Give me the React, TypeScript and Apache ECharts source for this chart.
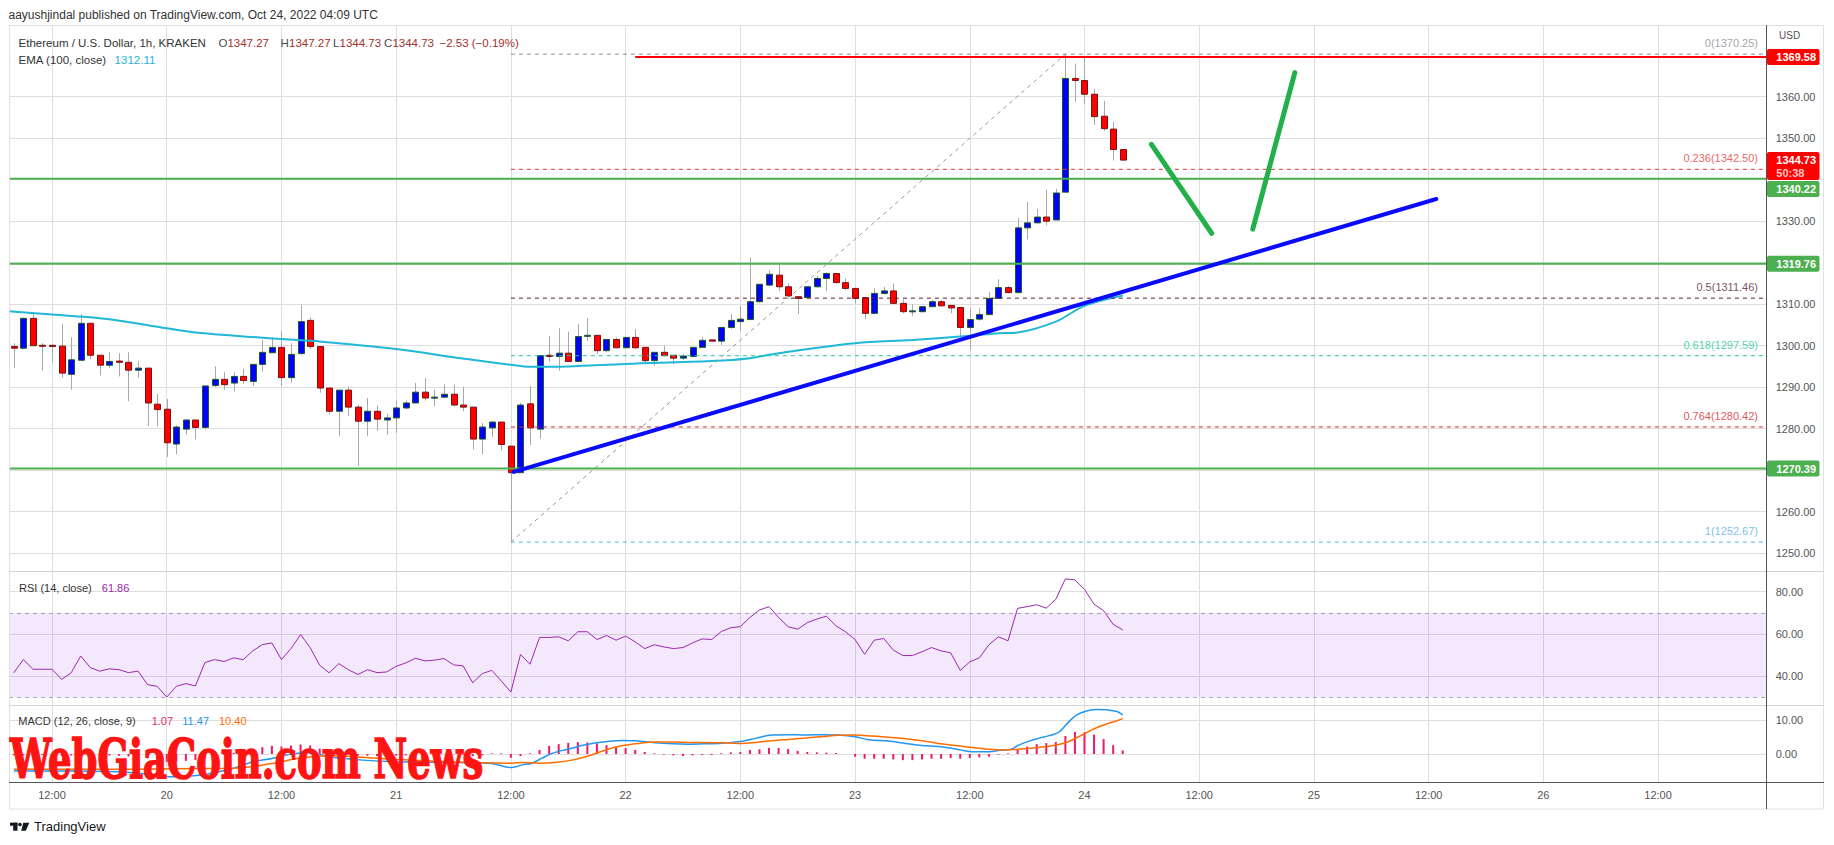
import React, { useEffect, useRef } from "react";
import * as echarts from "echarts";

// Hours are counted from 19 Oct 2022 00:00 UTC; one candle per hour.
const FIRST_CANDLE_HOUR = 8;

const OPEN = [
  1299.8, 1299.4, 1306.6, 1300.1, 1300.1, 1299.9, 1293.1, 1296.5, 1305.4, 1297.7,
  1295.3, 1296.3, 1296.0, 1294.1, 1294.6, 1285.9, 1284.7, 1276.3, 1279.9, 1282.1,
  1280.3, 1290.4, 1291.9, 1291.0, 1292.6, 1291.4, 1295.5, 1298.3, 1299.6, 1292.3,
  1298.1, 1306.1, 1299.8, 1289.8, 1284.2, 1289.3, 1285.2, 1281.8, 1284.2, 1282.1,
  1282.6, 1285.0, 1286.2, 1288.8, 1287.5, 1287.6, 1288.3, 1285.7, 1285.2, 1277.5,
  1280.2, 1281.6, 1275.8, 1269.4, 1286.0, 1279.9, 1297.7, 1297.4, 1298.2, 1296.2,
  1302.3, 1302.5, 1298.8, 1301.5, 1299.5, 1302.0, 1299.6, 1296.4, 1298.4, 1297.7,
  1297.0, 1297.4, 1299.6, 1301.4, 1301.1, 1304.4, 1305.8, 1306.3, 1310.6, 1314.6,
  1317.0, 1314.2, 1311.8, 1311.6, 1314.2, 1316.2, 1317.4, 1315.2, 1313.8, 1311.6,
  1307.8, 1312.6, 1313.2, 1310.2, 1308.3, 1308.2, 1309.4, 1310.6, 1309.7, 1309.2,
  1304.4, 1306.4, 1307.5, 1311.4, 1314.0, 1312.8, 1328.4, 1329.6, 1331.0, 1330.3,
  1337.0, 1364.4, 1363.9, 1360.6, 1355.3, 1352.2, 1347.27,
];
const HIGH = [
  1300.6, 1306.8, 1308.0, 1300.6, 1300.2, 1305.2, 1302.0, 1307.6, 1305.4, 1297.7,
  1298.4, 1298.2, 1298.4, 1296.3, 1294.6, 1288.4, 1287.2, 1280.8, 1282.1, 1282.1,
  1290.3, 1295.0, 1293.6, 1293.6, 1294.4, 1295.5, 1301.4, 1302.0, 1303.6, 1300.6,
  1309.9, 1306.8, 1299.8, 1289.8, 1289.3, 1290.2, 1285.8, 1287.4, 1285.6, 1283.6,
  1286.8, 1286.8, 1291.0, 1292.2, 1289.4, 1290.7, 1290.6, 1290.1, 1285.2, 1281.4,
  1281.8, 1281.6, 1275.8, 1286.2, 1290.4, 1297.6, 1302.4, 1304.2, 1303.4, 1305.2,
  1306.6, 1302.5, 1301.5, 1302.0, 1302.0, 1304.0, 1299.6, 1298.4, 1300.0, 1297.7,
  1298.0, 1299.6, 1302.1, 1301.4, 1304.4, 1307.6, 1309.6, 1321.2, 1314.8, 1318.2,
  1319.6, 1315.0, 1311.8, 1314.2, 1316.8, 1317.6, 1317.4, 1316.2, 1313.8, 1311.6,
  1313.8, 1314.2, 1315.0, 1311.2, 1310.0, 1309.6, 1311.0, 1311.0, 1309.7, 1309.2,
  1309.0, 1309.0, 1313.0, 1316.0, 1314.4, 1330.8, 1334.6, 1333.0, 1337.6, 1337.8,
  1370.25, 1368.0, 1369.6, 1361.8, 1359.0, 1354.0, 1347.27,
];
const LOW = [
  1294.6, 1299.2, 1300.0, 1294.0, 1296.0, 1292.3, 1289.4, 1296.2, 1296.8, 1292.8,
  1294.6, 1292.6, 1286.6, 1292.3, 1280.6, 1280.6, 1273.2, 1273.8, 1278.6, 1277.4,
  1279.8, 1290.0, 1289.4, 1289.0, 1290.8, 1290.3, 1293.8, 1298.3, 1290.2, 1291.1,
  1297.8, 1299.2, 1288.7, 1283.4, 1278.2, 1283.0, 1271.0, 1278.2, 1279.5, 1278.6,
  1279.0, 1284.6, 1286.2, 1286.8, 1285.4, 1287.4, 1285.4, 1284.2, 1275.0, 1273.8,
  1278.0, 1274.8, 1252.67, 1269.4, 1276.0, 1277.6, 1296.2, 1294.0, 1296.2, 1296.0,
  1301.2, 1298.0, 1298.4, 1299.4, 1299.4, 1299.2, 1295.8, 1295.2, 1297.6, 1295.5,
  1296.6, 1297.4, 1299.6, 1301.0, 1300.2, 1304.0, 1303.6, 1306.3, 1310.4, 1314.4,
  1313.2, 1311.8, 1307.6, 1311.4, 1314.0, 1313.2, 1315.0, 1313.4, 1310.2, 1306.4,
  1307.6, 1312.4, 1310.0, 1307.8, 1307.2, 1308.0, 1309.4, 1309.6, 1307.8, 1302.0,
  1299.0, 1306.0, 1307.4, 1311.4, 1312.6, 1312.6, 1325.6, 1329.6, 1329.0, 1330.3,
  1337.0, 1358.8, 1358.2, 1353.2, 1351.8, 1344.6, 1344.73,
];
const CLOSE = [
  1299.4, 1306.6, 1300.0, 1300.0, 1299.8, 1293.4, 1296.6, 1305.4, 1297.7, 1295.3,
  1296.2, 1296.0, 1294.1, 1294.6, 1286.2, 1284.6, 1276.6, 1280.4, 1282.1, 1280.3,
  1290.3, 1291.9, 1290.6, 1292.6, 1291.6, 1295.5, 1298.4, 1299.6, 1292.3, 1297.9,
  1305.8, 1299.8, 1289.8, 1284.2, 1289.3, 1285.2, 1281.8, 1284.2, 1282.3, 1282.6,
  1285.0, 1286.2, 1288.8, 1287.4, 1287.6, 1288.3, 1285.7, 1285.2, 1277.5, 1280.4,
  1281.6, 1276.2, 1269.4, 1285.7, 1280.2, 1297.6, 1297.4, 1298.2, 1296.2, 1302.2,
  1302.5, 1298.8, 1301.5, 1299.5, 1302.0, 1299.5, 1296.4, 1298.4, 1297.6, 1297.0,
  1297.5, 1299.6, 1301.3, 1301.1, 1304.4, 1306.1, 1306.4, 1310.6, 1314.8, 1317.2,
  1314.2, 1312.0, 1311.4, 1314.2, 1316.2, 1317.4, 1315.2, 1313.8, 1311.4, 1307.8,
  1312.6, 1313.2, 1310.2, 1308.2, 1308.4, 1309.4, 1310.6, 1309.6, 1309.1, 1304.4,
  1306.3, 1307.5, 1311.4, 1314.0, 1312.8, 1328.4, 1329.6, 1331.0, 1330.0, 1336.8,
  1364.4, 1363.9, 1360.6, 1355.2, 1352.3, 1347.27, 1344.73,
];

// EMA(100): [hour, value]
const EMA_POINTS = [
  [7.5, 1308.3], [12, 1307.5], [18, 1306.4], [24, 1304.2], [27, 1303.2], [36, 1301.6],
  [40, 1301.0], [48, 1299.2], [55, 1296.9], [60, 1295.4], [62, 1294.9], [66, 1295.0],
  [72, 1295.6], [81, 1296.3], [85, 1297.0], [88, 1298.2], [96, 1300.6], [102, 1301.4],
  [108, 1302.4], [111, 1303.0], [113, 1303.2], [117, 1305.8], [120, 1309.6], [124, 1312.11],
];

const RSI = [
  41.5, 47.8, 43.2, 43.2, 43.2, 38.4, 41.5, 49.5, 44.0, 42.3,
  43.4, 43.0, 41.6, 42.3, 35.9, 35.1, 30.0, 35.1, 36.4, 35.3,
  46.4, 47.8, 46.9, 48.6, 47.8, 51.9, 54.9, 55.7, 47.8, 53.0,
  59.7, 53.5, 45.1, 41.5, 45.9, 43.0, 40.7, 43.0, 41.6, 41.9,
  44.6, 46.2, 48.4, 47.2, 47.5, 48.3, 45.3, 44.8, 36.8, 41.1,
  42.7, 37.6, 32.4, 50.2, 45.6, 58.3, 58.3, 58.6, 56.7, 61.0,
  61.0, 57.3, 59.2, 57.0, 58.9, 56.2, 53.0, 54.8, 53.8, 53.0,
  53.5, 55.7, 57.6, 57.3, 61.1, 62.9, 63.4, 67.8, 71.3, 72.9,
  67.8, 63.4, 62.2, 65.3, 67.0, 68.4, 63.8, 61.0, 57.3, 50.3,
  57.0, 57.8, 52.3, 49.7, 49.7, 51.5, 53.5, 51.9, 51.0, 42.7,
  46.7, 48.6, 54.8, 58.6, 56.7, 72.1, 72.9, 73.8, 72.2, 76.4,
  86.1, 85.6, 81.1, 74.1, 71.0, 64.5, 61.86,
];

// MACD line (12, 26) read at points: [hour, value]
const MACD_LINE = [
  [8, -5.0], [13, -5.0], [19, -5.2], [22, -6.0], [24.5, -6.7], [27.5, -6.2], [31, -4.2],
  [33, -2.3], [35, -1.3], [37, 0.0], [39, 0.4], [41, -0.8], [44.5, -1.8], [48, -2.3],
  [52, -2.4], [56, -2.6], [58, -2.8], [60, -4.0], [61.2, -3.2], [62.2, -2.7], [63.2, -1.3],
  [64.3, 0.2], [65.3, 1.0], [66.4, 1.7], [67.4, 2.5], [68.5, 3.1], [69.9, 3.6], [71.6, 4.0],
  [73, 3.9], [75.1, 3.3], [76.9, 3.0], [78.6, 2.9], [80.3, 3.0], [82.1, 3.2], [83.8, 3.6],
  [85.6, 4.6], [87.3, 5.6], [89, 5.7], [90.8, 5.6], [92.5, 5.7], [94.3, 5.6], [96, 5.1],
  [97.4, 4.2], [99.5, 3.8], [101.3, 3.1], [103, 2.5], [104.7, 2.2], [106.5, 1.5], [108.2, 0.7],
  [110, 0.7], [111.4, 1.2], [112.2, 1.3], [113.1, 2.6], [114.2, 3.8], [115.2, 4.6], [116.3, 5.4],
  [117.3, 6.4], [118.3, 9.3], [119.2, 11.5], [120.3, 12.7], [121.3, 13.1], [122.3, 13.0],
  [123.4, 12.5], [124, 11.47],
];
// Signal line (9)
const SIGNAL_LINE = [
  [8, -4.5], [19, -4.5], [25, -4.3], [31, -4.2], [35, -2.8], [38, -1.2], [41, -0.5],
  [44, -0.9], [48, -1.6], [52, -2.1], [56, -2.5], [60, -2.7], [61.2, -2.5], [62.9, -2.7],
  [64.6, -2.5], [66.4, -1.8], [68.1, -0.6], [69.9, 1.2], [71.6, 2.4], [73.4, 3.1], [75.1, 3.5],
  [76.9, 3.5], [78.6, 3.4], [82.1, 3.3], [83.8, 3.1], [85.6, 3.4], [87.3, 3.9], [89, 4.3],
  [90.8, 4.7], [92.5, 5.1], [94.3, 5.5], [96, 5.6], [97.8, 5.3], [99.5, 4.9], [101.3, 4.5],
  [103, 3.9], [104.7, 3.1], [106.5, 2.5], [108.2, 1.9], [110, 1.4], [111.4, 1.2], [113.1, 1.4],
  [115.2, 1.9], [117.3, 2.8], [118.3, 3.6], [119.4, 5.1], [120.4, 6.6], [121.5, 8.0],
  [122.5, 9.0], [123.4, 9.8], [124, 10.4],
];
// Histogram, one bar per candle
const MACD_HIST = [
  -0.4, -0.4, -0.3, -0.3, -0.3, -0.5, -0.4, 0.1, -0.1, -0.3,
  -0.4, -0.5, -0.7, -0.8, -1.3, -1.7, -2.3, -2.2, -2.0, -1.8,
  -1.0, -0.5, -0.2, 0.3, 0.9, 1.4, 2.0, 2.4, 2.2, 2.5,
  2.8, 2.5, 1.6, 0.6, 0.3, -0.1, -0.5, -0.5, -0.6, -0.6,
  -0.5, -0.4, -0.2, -0.2, -0.1, 0.0, -0.1, -0.2, -0.6, -0.4,
  0.2, 0.2, -1.1, -0.6, 0.2, 1.2, 2.4, 2.9, 3.3, 3.5,
  3.4, 3.1, 2.6, 2.0, 1.7, 1.2, 0.6, 0.2, -0.2, -0.4,
  -0.6, -0.4, -0.3, -0.3, 0.2, 0.5, 0.6, 1.2, 1.4, 1.8,
  1.8, 1.5, 0.9, 0.6, 0.5, 0.4, 0.3, 0.0, -0.8, -1.4,
  -1.4, -1.4, -1.6, -1.8, -1.8, -1.6, -1.4, -1.4, -1.2, -1.4,
  -1.2, -1.0, -0.8, -0.2, 0.2, 1.4, 2.2, 2.9, 3.2, 3.5,
  5.3, 6.5, 6.4, 5.7, 4.4, 2.6, 1.07,
];

const TIME_TICKS = [12, 24, 36, 48, 60, 72, 84, 96, 108, 120, 132, 144, 156, 168, 180];
const PRICE_TICKS = [1250, 1260, 1270, 1280, 1290, 1300, 1310, 1320, 1330, 1340, 1350, 1360];
// labels hidden under the price tags are not shown on the reference
const PRICE_LABELS = [1250, 1260, 1280, 1290, 1300, 1310, 1330, 1350, 1360];
const RSI_TICKS = [40, 60, 80];
const MACD_TICKS = [0, 10];

const SUPPORT_LEVELS = [1340.22, 1319.76, 1270.39];
const RESISTANCE_LEVEL = 1369.58;
const RESISTANCE_FROM_HOUR = 73;
const FIB_RATIOS = ["0", "0.236", "0.5", "0.618", "0.764", "1"];
const FIB_PRICES = [1370.25, 1342.5, 1311.46, 1297.59, 1280.42, 1252.67];
const FIB_FROM_HOUR = 60;
const FIB_SWING = [[60, 1252.67], [118, 1370.25]];
const TRENDLINE = [[60.3, 1269.6], [156.8, 1335.35]];
const ARROW_DOWN = [[127.0, 1348.5], [133.3, 1327.1]];
const ARROW_UP = [[137.6, 1328.1], [142.0, 1365.8]];
const LAST_PRICE = 1344.73;
const COUNTDOWN = "50:38";

// ---- layout & style ----
const X_MIN = 7.5;
const X_MAX = 191.36;
const FONT = "'Liberation Sans', Arial, sans-serif";
const GRID_COLOR = "#dedede";
const AXIS_TEXT = "#555555";
const FIB_COLORS = ["#8a8a8a", "#e53935", "#5c1a2e", "#22c79c", "#d62828", "#5aaee6"];

export default function App() {
  const ref = useRef<HTMLDivElement>(null);

  useEffect(() => {
    const el = ref.current;
    if (!el) return;
    const chart = echarts.init(el, null, { renderer: "svg" });

    const candles = OPEN.map((o, i) => [FIRST_CANDLE_HOUR + i, o, CLOSE[i], LOW[i], HIGH[i]]);

    const renderCandle = (_params: any, api: any) => {
      const x = api.value(0);
      const o = api.value(1);
      const c = api.value(2);
      const lo = api.value(3);
      const hi = api.value(4);
      const pO = api.coord([x, o]);
      const pC = api.coord([x, c]);
      const pL = api.coord([x, lo]);
      const pH = api.coord([x, hi]);
      const cx = Math.round(pO[0]);
      const up = c >= o;
      const top = Math.min(pO[1], pC[1]);
      const bottom = Math.max(pO[1], pC[1]);
      return {
        type: "group",
        children: [
          {
            type: "line",
            shape: { x1: cx + 0.5, y1: pH[1], x2: cx + 0.5, y2: pL[1] },
            style: { stroke: "#a8a8a8", lineWidth: 1 },
          },
          {
            type: "rect",
            shape: { x: cx - 2.5, y: top, width: 6, height: Math.max(bottom - top, 1) },
            style: {
              fill: up ? "#0000ff" : "#ff0000",
              stroke: up ? "#1d5a22" : "#7a1212",
              lineWidth: 1,
            },
          },
        ],
      };
    };

    const seg = (data: number[][], color: string, width: number, type: any, z: number, extra: any = {}) => ({
      type: "line",
      xAxisIndex: 0,
      yAxisIndex: 0,
      data,
      showSymbol: false,
      silent: true,
      z,
      lineStyle: { color, width, type, ...extra },
    });

    const timeLabel = (v: number) => (v % 24 === 12 ? "12:00" : String(19 + v / 24));

    const xAxes = [0, 1, 2].map((i) => ({
      type: "value",
      gridIndex: i,
      min: X_MIN,
      max: X_MAX,
      axisLine: { show: false },
      axisTick: { show: false, customValues: TIME_TICKS },
      axisLabel: {
        show: i === 2,
        customValues: TIME_TICKS,
        formatter: timeLabel,
        color: AXIS_TEXT,
        fontSize: 11,
        margin: 7,
      },
      splitLine: { show: true, lineStyle: { color: GRID_COLOR, width: 1 } },
    }));

    const yAxis = (i: number, min: number, max: number, ticks: number[], labels: number[]) => ({
      type: "value",
      gridIndex: i,
      position: "right",
      min,
      max,
      axisLine: { show: false },
      axisTick: { show: false, customValues: ticks },
      axisLabel: {
        customValues: labels,
        formatter: (v: number) => v.toFixed(2),
        color: AXIS_TEXT,
        fontSize: 11,
        margin: 9,
      },
      splitLine: { show: true, lineStyle: { color: GRID_COLOR, width: 1 } },
    });

    const series: any[] = [];
    series.push({
      type: "custom",
      name: "ETHUSD",
      xAxisIndex: 0,
      yAxisIndex: 0,
      renderItem: renderCandle,
      encode: { x: 0, y: [1, 2, 3, 4] },
      data: candles,
      z: 3,
      silent: true,
    });
    series.push({
      type: "line",
      xAxisIndex: 0,
      yAxisIndex: 0,
      data: EMA_POINTS,
      smooth: 0.35,
      showSymbol: false,
      silent: true,
      z: 4,
      lineStyle: { color: "#1fb8d6", width: 2 },
    });
    FIB_PRICES.forEach((p, i) =>
      series.push(seg([[FIB_FROM_HOUR, p], [X_MAX, p]], FIB_COLORS[i], 1, [4, 4], 5))
    );
    series.push(seg(FIB_SWING, "#9a9a9a", 1, [4, 4], 5));
    SUPPORT_LEVELS.forEach((p) => series.push(seg([[X_MIN, p], [X_MAX, p]], "#4caf50", 2, "solid", 6)));
    series.push(seg([[RESISTANCE_FROM_HOUR, RESISTANCE_LEVEL], [X_MAX, RESISTANCE_LEVEL]], "#ff0000", 2, "solid", 6));
    series.push(seg(TRENDLINE, "#0a0aff", 4, "solid", 7, { cap: "round" }));
    series.push(seg(ARROW_DOWN, "#22b04b", 5, "solid", 7, { cap: "round" }));
    series.push(seg(ARROW_UP, "#22b04b", 5, "solid", 7, { cap: "round" }));
    series.push({
      type: "scatter",
      xAxisIndex: 0,
      yAxisIndex: 0,
      symbolSize: 1,
      silent: true,
      z: 8,
      itemStyle: { color: "rgba(0,0,0,0)" },
      data: FIB_PRICES.map((p, i) => ({
        value: [X_MAX - 0.02, p],
        label: {
          show: true,
          position: "left",
          distance: 8,
          offset: [0, -11],
          formatter: `${FIB_RATIOS[i]}(${p.toFixed(2)})`,
          color: FIB_COLORS[i],
          fontSize: 11,
          fontFamily: FONT,
        },
      })),
    });

    // RSI pane
    series.push({
      type: "line",
      xAxisIndex: 1,
      yAxisIndex: 1,
      data: RSI.map((v, i) => [FIRST_CANDLE_HOUR + i, v]),
      showSymbol: false,
      silent: true,
      z: 4,
      lineStyle: { color: "#9c27b0", width: 1 },
      markArea: {
        silent: true,
        itemStyle: { color: "rgba(155,47,230,0.11)" },
        data: [[{ yAxis: 30 }, { yAxis: 70 }]],
      },
      markLine: {
        silent: true,
        symbol: "none",
        label: { show: false },
        lineStyle: { color: "#ada3b8", type: [4, 4], width: 1 },
        data: [{ yAxis: 70 }, { yAxis: 30 }],
      },
    });

    // MACD pane
    series.push({
      type: "bar",
      xAxisIndex: 2,
      yAxisIndex: 2,
      data: MACD_HIST.map((v, i) => [FIRST_CANDLE_HOUR + i, v]),
      barWidth: 2,
      silent: true,
      itemStyle: { color: "#f0186a" },
      z: 3,
    });
    series.push({
      type: "line",
      xAxisIndex: 2,
      yAxisIndex: 2,
      data: MACD_LINE,
      smooth: 0.35,
      showSymbol: false,
      silent: true,
      z: 4,
      lineStyle: { color: "#2196f3", width: 1.5 },
    });
    series.push({
      type: "line",
      xAxisIndex: 2,
      yAxisIndex: 2,
      data: SIGNAL_LINE,
      smooth: 0.35,
      showSymbol: false,
      silent: true,
      z: 4,
      lineStyle: { color: "#ff6d00", width: 1.5 },
    });

    chart.setOption({
      animation: false,
      backgroundColor: "#ffffff",
      textStyle: { fontFamily: FONT },
      grid: [
        { left: 9, top: 25, width: 1757.7, height: 546 },
        { left: 9, top: 571, width: 1757.7, height: 134.7 },
        { left: 9, top: 705.7, width: 1757.7, height: 77 },
      ],
      xAxis: xAxes,
      yAxis: [
        yAxis(0, 1245.71, 1377.28, PRICE_TICKS, PRICE_LABELS),
        yAxis(1, 25.91, 89.82, RSI_TICKS, RSI_TICKS),
        yAxis(2, -8.44, 14.21, MACD_TICKS, MACD_TICKS),
      ],
      series,
    });

    // ---- decorations (text, frame, axis price tags) ----
    const T = (text: string, x: number, y: number, fill: string, size = 11.5, extra: any = {}) => ({
      type: "text",
      x,
      y,
      z: 100,
      silent: true,
      style: { text, fill, fontSize: size, fontFamily: FONT, verticalAlign: "middle", align: "left", ...extra },
    });
    const L = (x1: number, y1: number, x2: number, y2: number, stroke: string, w = 1) => ({
      type: "line",
      z: 90,
      silent: true,
      shape: { x1, y1, x2, y2 },
      style: { stroke, lineWidth: w },
    });

    const VAL = "#a3302b";
    const LBL = "#4a4a4a";
    const elements: any[] = [
      // frame
      { type: "rect", z: 89, silent: true, shape: { x: 9.5, y: 25.5, width: 1814, height: 783.5 }, style: { fill: "none", stroke: "#e0e0e0", lineWidth: 1 } },
      L(9, 571.5, 1824, 571.5, "#d4d4d4"),
      L(9, 705.5, 1824, 705.5, "#d4d4d4"),
      L(9, 782.5, 1824, 782.5, "#555555"),
      L(1766.5, 25, 1766.5, 809, "#555555"),
      // header
      T("aayushjindal published on TradingView.com, Oct 24, 2022 04:09 UTC", 8.5, 14.5, "#333333", 12),
      T("Ethereum / U.S. Dollar, 1h, KRAKEN", 18.6, 42.5, "#333333"),
      T("O", 218.6, 42.5, LBL), T("1347.27", 227.4, 42.5, VAL),
      T("H", 280.6, 42.5, LBL), T("1347.27", 289, 42.5, VAL),
      T("L", 333, 42.5, LBL), T("1344.73", 339.5, 42.5, VAL),
      T("C", 384, 42.5, LBL), T("1344.73", 392.4, 42.5, VAL),
      T("\u22122.53 (\u22120.19%)", 439.5, 42.5, VAL),
      T("EMA (100, close)", 18.6, 60, "#333333"),
      T("1312.11", 114.6, 60, "#1fb5d4"),
      T("RSI (14, close)", 19, 587.5, "#333333", 11),
      T("61.86", 101.8, 587.5, "#9c27b0", 11),
      T("MACD (12, 26, close, 9)", 18.3, 721, "#333333", 11),
      T("1.07", 151.7, 721, "#e91e63", 11),
      T("11.47", 182.3, 721, "#2196f3", 11),
      T("10.40", 219, 721, "#ff6d00", 11),
      T("USD", 1779, 35, AXIS_TEXT, 10),
      // watermark
      {
        type: "text",
        x: 10,
        y: 759,
        z: 110,
        silent: true,
        scaleX: 0.76,
        style: {
          text: "WebGiaCoin.com News",
          fill: "#ff1414",
          stroke: "#ff1414",
          lineWidth: 1.6,
          fontSize: 54,
          fontWeight: "bold",
          fontFamily: "'DejaVu Serif Condensed', 'DejaVu Serif', serif",
          verticalAlign: "middle",
          align: "left",
        },
      },
      // TradingView logo
      { type: "rect", z: 100, silent: true, shape: { x: 10, y: 822.7, width: 7.5, height: 3 }, style: { fill: "#131722" } },
      { type: "rect", z: 100, silent: true, shape: { x: 13.2, y: 822.7, width: 4.3, height: 8 }, style: { fill: "#131722" } },
      { type: "circle", z: 100, silent: true, shape: { cx: 20, cy: 824.5, r: 1.8 }, style: { fill: "#131722" } },
      { type: "polygon", z: 100, silent: true, shape: { points: [[23.3, 822.7], [29.3, 822.7], [25.8, 830.7], [21.2, 830.7]] }, style: { fill: "#131722" } },
      T("TradingView", 34, 826.5, "#131722", 13),
    ];

    // price tags on the right axis, placed through the price scale
    const tags = [
      { price: RESISTANCE_LEVEL, color: "#ff0000", lines: [RESISTANCE_LEVEL.toFixed(2)] },
      { price: LAST_PRICE, color: "#ff0000", lines: [LAST_PRICE.toFixed(2), COUNTDOWN] },
      ...SUPPORT_LEVELS.map((p) => ({ price: p, color: "#4caf50", lines: [p.toFixed(2)] })),
    ]
      .map((t) => ({ ...t, y: chart.convertToPixel({ yAxisIndex: 0 }, t.price) as number }))
      .sort((a, b) => a.y - b.y);
    let prevBottom = -Infinity;
    tags.forEach((t) => {
      const h = t.lines.length === 1 ? 16 : 28;
      let top = t.y - 8;
      if (top < prevBottom + 1) top = prevBottom + 1;
      prevBottom = top + h;
      elements.push({
        type: "rect",
        z: 120,
        silent: true,
        shape: { x: 1767, y: top, width: 52.5, height: h, r: 2 },
        style: { fill: t.color },
      });
      t.lines.forEach((s, k) => {
        elements.push({
          type: "text",
          x: 1776.3,
          y: top + 8 + k * 12.5,
          z: 121,
          silent: true,
          style: {
            text: s,
            fill: k === 0 ? "#ffffff" : "rgba(255,255,255,0.78)",
            fontSize: 11,
            fontWeight: "bold",
            fontFamily: FONT,
            verticalAlign: "middle",
            align: "left",
          },
        });
      });
    });

    chart.setOption({ graphic: { elements } });

    return () => chart.dispose();
  }, []);

  return <div ref={ref} style={{ position: "absolute", left: 0, top: 0, width: 1834, height: 845 }} />;
}
